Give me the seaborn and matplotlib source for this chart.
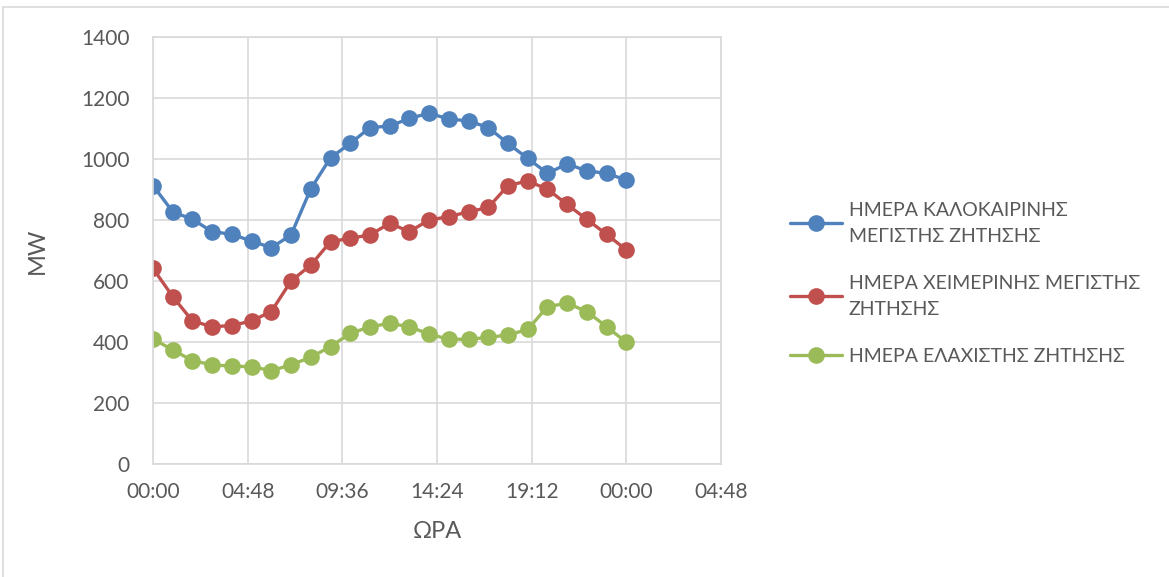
import numpy as np
import pandas as pd
import matplotlib
matplotlib.use("Agg")
import matplotlib.pyplot as plt
from matplotlib.patches import Rectangle
import seaborn as sns

# Hourly load (MW), 00:00 to 00:00 of the next day
hours = list(range(25))
summer_peak = [913, 827, 802, 762, 753, 731, 709, 751, 902, 1004, 1051, 1103, 1108,
               1133, 1150, 1131, 1125, 1103, 1051, 1002, 953, 984, 961, 953, 931]
winter_peak = [641, 549, 469, 450, 454, 469, 500, 600, 652, 729, 740, 751, 789,
               762, 800, 811, 827, 841, 913, 928, 901, 851, 802, 753, 702]
minimum_day = [410, 374, 339, 325, 321, 319, 306, 325, 350, 385, 428, 450, 461,
               450, 426, 409, 409, 415, 423, 441, 516, 527, 500, 450, 399]

series_names = ["ΗΜΕΡΑ ΚΑΛΟΚΑΙΡΙΝΗΣ\nΜΕΓΙΣΤΗΣ ΖΗΤΗΣΗΣ",
                "ΗΜΕΡΑ ΧΕΙΜΕΡΙΝΗΣ ΜΕΓΙΣΤΗΣ\nΖΗΤΗΣΗΣ",
                "ΗΜΕΡΑ ΕΛΑΧΙΣΤΗΣ ΖΗΤΗΣΗΣ"]
colors = ["#4F81BD", "#C0504D", "#9BBB59"]

x_ticks = [0.0, 0.2, 0.4, 0.6, 0.8, 1.0, 1.2]
x_tick_labels = ["00:00", "04:48", "09:36", "14:24", "19:12", "00:00", "04:48"]
y_ticks = [0, 200, 400, 600, 800, 1000, 1200, 1400]

frames = []
for name, vals in zip(series_names, [summer_peak, winter_peak, minimum_day]):
    frames.append(pd.DataFrame({"day": np.array(hours) / 24.0, "MW": vals, "series": name}))
df = pd.concat(frames, ignore_index=True)

sns.set_theme(style="white")
plt.rcParams["font.family"] = ["Lato", "DejaVu Sans"]
text_color = "#595959"
grid_color = "#D9D9D9"

fig = plt.figure(figsize=(11.69, 5.77), dpi=100)
ax = fig.add_axes([153 / 1169, 1 - 464 / 577, (721 - 153) / 1169, (464 - 37) / 577])

sns.lineplot(data=df, x="day", y="MW", hue="series", palette=colors,
             marker="o", markersize=12, markeredgewidth=0, linewidth=2.4,
             ax=ax, legend=True)

ax.set_xlim(0, 1.2)
ax.set_ylim(0, 1400)
ax.set_xticks(x_ticks)
ax.set_xticklabels(x_tick_labels)
ax.set_yticks(y_ticks)
ax.grid(True, color=grid_color, linewidth=1.2)
ax.set_axisbelow(True)
for s in ax.spines.values():
    s.set_color(grid_color)
    s.set_linewidth(1.2)
ax.tick_params(axis="x", length=0, labelsize=15, colors=text_color, pad=13)
ax.tick_params(axis="y", length=0, labelsize=15, colors=text_color, pad=17)
ax.set_xlabel("ΩΡΑ", fontsize=17, color=text_color, labelpad=14)
ax.set_ylabel("MW", fontsize=17, color=text_color, labelpad=24)

handles, labels = ax.get_legend_handles_labels()
ax.legend_.remove()
leg = fig.legend(handles, labels, loc="upper left", bbox_to_anchor=(772 / 1169, 1 - 184 / 577),
                 frameon=False, fontsize=14, labelcolor=text_color, handlelength=2.7,
                 labelspacing=1.55, handletextpad=0.35)
for t in leg.get_texts():
    t.set_linespacing(1.65)

# Chart area border
fig.patches.append(Rectangle((3 / 1169, -0.05), 1.2, 1 - 7 / 577 + 0.05,
                             transform=fig.transFigure, fill=False,
                             edgecolor=grid_color, linewidth=1.2))

fig.savefig("out.png", dpi=100, facecolor="white")
